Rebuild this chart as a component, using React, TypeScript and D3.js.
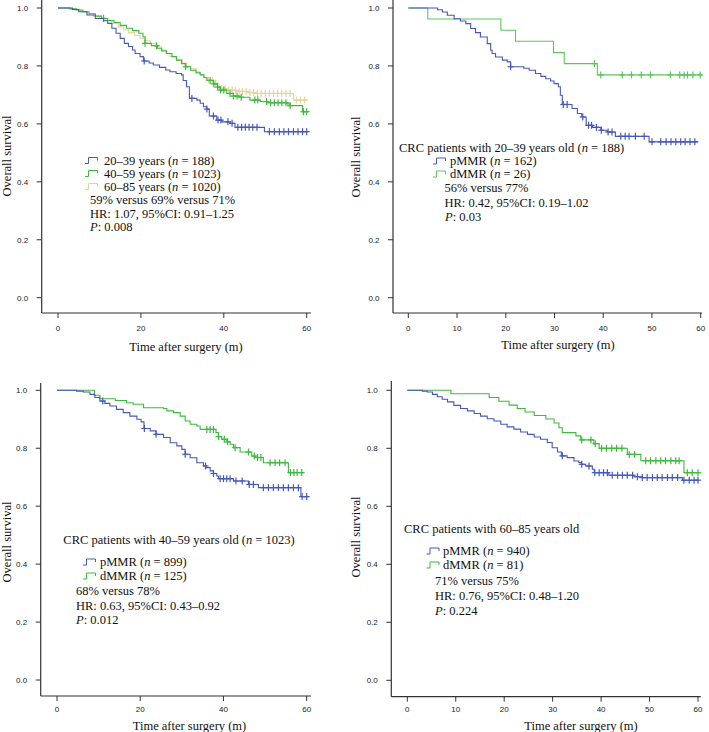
import React from 'react';
import * as d3 from 'd3';

type Step = [number, number];

// ---------- DATA ----------
const Y_TICKS = [0, 0.2, 0.4, 0.6, 0.8, 1.0];
const X_TICKS_20 = [0, 20, 40, 60];
const X_TICKS_10 = [0, 10, 20, 30, 40, 50, 60];

// Panel A: by age group
const A_2039_STEPS: Step[] = [[0,1],[3.5,0.995],[5,0.987],[7,0.976],[9,0.964],[11,0.956],[12,0.947],[13,0.93],[14,0.913],[15,0.895],[16,0.878],[17,0.867],[18,0.855],[18.6,0.843],[19.8,0.832],[20.6,0.817],[22,0.81],[23,0.803],[24.5,0.795],[26,0.786],[27,0.78],[28.5,0.774],[29.8,0.769],[30.2,0.75],[31,0.728],[31.7,0.688],[33.5,0.682],[34.3,0.671],[35.1,0.659],[35.9,0.651],[36.5,0.627],[38.3,0.613],[39.5,0.607],[41.5,0.602],[42.7,0.588],[49.8,0.573]];
const A_2039_CENSOR = [20.8,32.3,35.9,37.5,38.6,39.3,41,42,43.4,44.3,45.2,46.1,47,48,51,52.2,53.4,54.5,55.6,56.8,57.9,59,60];
const A_4059_STEPS: Step[] = [[0,1],[3,0.997],[4.5,0.993],[6,0.987],[7.5,0.98],[9,0.972],[10.5,0.964],[12,0.957],[13.5,0.95],[15,0.94],[16.5,0.93],[18,0.922],[19.5,0.913],[20.5,0.901],[21,0.878],[22.5,0.87],[24,0.861],[25,0.852],[26.2,0.843],[27.5,0.832],[28.6,0.82],[29.8,0.808],[30.7,0.797],[32,0.785],[33.3,0.776],[34.3,0.769],[35.2,0.76],[35.9,0.75],[37.5,0.738],[38.5,0.727],[39.1,0.717],[40.7,0.705],[42.3,0.696],[43.9,0.692],[46.3,0.682],[48.8,0.677],[50.4,0.673],[55.2,0.669],[56,0.663],[59,0.642]];
const A_4059_CENSOR = [11,21,23.8,30.8,36.7,37.6,38.5,39.2,40,41.5,42.3,43.2,44.2,47.5,48.2,50.3,51.3,52.2,53.1,54,55,56,59.2,60];
const A_6085_STEPS: Step[] = [[0,1],[2.5,0.997],[4,0.993],[5.5,0.987],[7,0.98],[8.5,0.972],[10,0.965],[11.5,0.957],[13,0.947],[14.5,0.935],[15.8,0.924],[17,0.915],[18.5,0.905],[19.8,0.895],[21,0.887],[22.3,0.878],[23.5,0.866],[25,0.855],[26,0.843],[27,0.832],[28.5,0.82],[30,0.81],[31,0.8],[32,0.79],[33.3,0.78],[34.3,0.77],[35.2,0.76],[35.9,0.751],[37.5,0.74],[38.3,0.73],[39,0.722],[40.5,0.716],[43,0.712],[46,0.708],[48,0.705],[56.8,0.682]];
const A_6085_CENSOR = [36.3,37.2,38,39.5,40.3,41.2,42,42.8,43.7,44.5,45.4,46.3,47.2,48.1,49,50,51,52,53,54,55,56,57.5,58.5,59.5];
const A_LABELS = ['20–39 years', '40–59 years', '60–85 years'];
const A_N = [188, 1023, 1020];
const A_STATS = ['59% versus  69% versus 71%', 'HR: 1.07, 95%CI: 0.91–1.25', '0.008'];

// Panel B: 20–39 years
const B_P_STEPS: Step[] = [[0,1],[6,0.994],[7,0.986],[8,0.975],[9.4,0.963],[10.7,0.955],[11.8,0.946],[12.8,0.929],[13.8,0.915],[14.8,0.9],[16.2,0.877],[16.9,0.854],[17.2,0.843],[17.9,0.831],[19.3,0.82],[20.3,0.814],[21,0.797],[23.7,0.792],[24.8,0.785],[26.1,0.774],[27.2,0.764],[28.2,0.756],[29.2,0.748],[29.9,0.739],[30.8,0.728],[31.2,0.699],[31.6,0.667],[33.6,0.653],[34.7,0.636],[35.6,0.624],[36.5,0.595],[37.8,0.588],[39.5,0.578],[40.8,0.572],[42.5,0.557],[49.4,0.538]];
const B_P_CENSOR = [21,31.8,32.6,35.8,37,37.6,38.6,39.6,41,41.8,43.6,44.5,45.3,46.6,48.4,50,51.8,52.9,53.9,54.9,55.9,56.8,57.8,58.8];
const B_D_STEPS: Step[] = [[0,1],[4,0.962],[19,0.923],[22,0.885],[29.8,0.846],[32,0.808],[38.8,0.769]];
const B_D_CENSOR = [38.2,39.5,43.9,45.8,47.8,49.7,53.8,55.7,56.6,57.3,58.4,59.9];
const B_HEADER = ['CRC patients with 20–39 years old (', 'n', ' = 188)'];
const B_N = [162, 26];
const B_STATS = ['56% versus 77%', 'HR: 0.42, 95%CI: 0.19–1.02', '0.03'];

// Panel C: 40–59 years
const C_P_STEPS: Step[] = [[0,1],[4.7,0.997],[6.3,0.994],[7.9,0.986],[9.1,0.975],[10.3,0.963],[11.5,0.955],[12.7,0.946],[14.3,0.934],[15.9,0.923],[17.5,0.911],[19.2,0.9],[20.2,0.891],[20.9,0.868],[22.4,0.86],[23.8,0.848],[25.6,0.837],[27.2,0.819],[28.8,0.808],[30,0.796],[30.8,0.779],[32,0.767],[33.6,0.75],[35.2,0.739],[35.8,0.733],[36.8,0.722],[37.6,0.713],[38.4,0.704],[38.8,0.695],[42.4,0.687],[46,0.675],[48.4,0.664],[58.6,0.633]];
const C_P_CENSOR = [11,21,23.8,30.8,35.7,37.6,39.2,40,40.8,41.6,43,44.5,46.2,47.2,49.6,50.8,52,53.2,54.4,55.6,56.8,58,58.9,60];
const C_D_STEPS: Step[] = [[0,1],[9,0.983],[10.3,0.971],[14,0.965],[16.7,0.957],[18.3,0.952],[20.8,0.94],[25.6,0.937],[26.4,0.929],[28,0.923],[29.6,0.911],[30.8,0.894],[32,0.883],[33.6,0.877],[34.4,0.865],[38.2,0.854],[38.8,0.84],[39.6,0.831],[40.8,0.822],[41.6,0.814],[42.4,0.802],[44,0.787],[46.8,0.773],[47.6,0.768],[49.6,0.75],[55.6,0.716]];
const C_D_CENSOR = [36,36.8,37.6,38.8,40.2,41,42.8,46,47.4,48.2,49,51.2,52.4,53.5,54.8,56.1,56.9,57.7,58.8];
const C_HEADER = ['CRC patients with 40–59 years old (', 'n', ' = 1023)'];
const C_N = [899, 125];
const C_STATS = ['68% versus 78%', 'HR: 0.63, 95%CI: 0.43–0.92', '0.012'];

// Panel D: 60–85 years
const D_P_STEPS: Step[] = [[0,1],[3.1,0.997],[4.1,0.994],[5.2,0.986],[6.2,0.978],[7.2,0.969],[8.3,0.96],[9.6,0.948],[11,0.937],[12.4,0.929],[13.8,0.92],[15.1,0.911],[16.5,0.902],[17.9,0.894],[19.3,0.883],[20.6,0.874],[22,0.866],[23.4,0.856],[24.8,0.848],[26.2,0.839],[27.5,0.831],[28.9,0.82],[29.9,0.802],[31,0.787],[31.8,0.774],[33,0.768],[34.4,0.756],[35.4,0.751],[35.9,0.745],[36.8,0.739],[38.2,0.728],[38.6,0.716],[41.6,0.707],[46.8,0.702],[48.5,0.699],[56.8,0.69]];
const D_P_CENSOR = [32,36,37.5,38.7,39.6,40.5,41.3,42.3,43.4,44.4,45.4,46.5,47.5,48.5,49.5,50.6,51.6,52.6,53.7,54.7,55.8,57.1,58.2,59.2,60];
const D_D_STEPS: Step[] = [[0,1],[9,0.988],[16.9,0.975],[18.9,0.962],[21,0.949],[22.7,0.937],[24.3,0.925],[26.2,0.913],[28.6,0.901],[30.3,0.887],[31.3,0.871],[32,0.854],[34.8,0.843],[35.8,0.829],[38.5,0.816],[39.6,0.8],[45.4,0.779],[48.2,0.757],[57.1,0.716]];
const D_D_CENSOR = [36,37.9,38.8,40.1,41.1,42.2,43.2,44.3,45.8,46.9,49.2,50.2,51.3,52.3,53.3,54.4,55.4,56.1,57.8,58.8,60];
const D_HEADER = ['CRC patients with 60–85 years old'];
const D_N = [940, 81];
const D_STATS = ['71% versus 75%', 'HR: 0.76, 95%CI: 0.48–1.20', '0.224'];

const MMR_LABELS = ['pMMR', 'dMMR'];

// ---------- STYLE ----------
const BLUE = '#4658bd';
const GREEN = '#3dba3d';
const LGREEN = '#5cc65c';
const TAN = '#e5d3a0';
const SERIF = '"Liberation Serif", "Times New Roman", serif';
const SANS = '"Liberation Sans", Arial, sans-serif';
const FS = 12.5;

interface Series { steps: Step[]; censor: number[]; end: number; color: string; }
interface Layout {
  axisX: number; axisTop: number; axisY: number; axisRight: number;
  xr: [number, number]; yr: [number, number];
  xTicks: number[]; tickLabelY: number;
  xTitle: [number, number]; yTitle: [number, number];
}

function valueAt(steps: Step[], t: number) {
  let v = steps[0][1];
  for (const [tt, s] of steps) { if (tt <= t) v = s; else break; }
  return v;
}

function Panel({ layout, series }: { layout: Layout; series: Series[] }) {
  const x = d3.scaleLinear().domain([0, 60]).range(layout.xr);
  const y = d3.scaleLinear().domain([0, 1]).range(layout.yr);
  const line = d3.line<Step>().x(d => x(d[0])).y(d => y(d[1])).curve(d3.curveStepAfter);
  const axisColor = '#333';
  return (
    <g>
      {/* axes */}
      <line x1={layout.axisX} x2={layout.axisX} y1={layout.axisTop} y2={layout.axisY} stroke={axisColor} strokeWidth={1.2} />
      <line x1={layout.axisX} x2={layout.axisRight} y1={layout.axisY} y2={layout.axisY} stroke={axisColor} strokeWidth={1.2} />
      {Y_TICKS.map(t => (
        <g key={'y' + t}>
          <line x1={layout.axisX - 5} x2={layout.axisX} y1={y(t)} y2={y(t)} stroke={axisColor} strokeWidth={1} />
          <text x={layout.axisX - 13.5} y={y(t)} dy="0.35em" textAnchor="end" fontFamily={SANS} fontSize={8} fill="#222">{d3.format('.1f')(t)}</text>
        </g>
      ))}
      {layout.xTicks.map(t => (
        <g key={'x' + t}>
          <line x1={x(t)} x2={x(t)} y1={layout.axisY} y2={layout.axisY + 5} stroke={axisColor} strokeWidth={1} />
          <text x={x(t)} y={layout.tickLabelY} dy="0.35em" textAnchor="middle" fontFamily={SANS} fontSize={8} fill="#222">{t}</text>
        </g>
      ))}
      <text x={layout.xTitle[0]} y={layout.xTitle[1]} textAnchor="middle" fontFamily={SERIF} fontSize={FS} fill="#111">Time after surgery (m)</text>
      <text transform={`translate(${layout.yTitle[0]},${layout.yTitle[1]}) rotate(-90)`} textAnchor="middle" fontFamily={SERIF} fontSize={FS} fill="#111">Overall survival</text>
      {/* curves */}
      {series.map((s, i) => {
        const pts: Step[] = [...s.steps, [s.end, s.steps[s.steps.length - 1][1]]];
        return (
          <g key={'s' + i}>
            <path d={line(pts) || ''} fill="none" stroke={s.color} strokeWidth={1.1} />
            {s.censor.map((c, j) => {
              const cx = x(c), cy = y(valueAt(s.steps, c));
              return (
                <g key={j} stroke={s.color} strokeWidth={1.2}>
                  <line x1={cx} x2={cx} y1={cy - 3.5} y2={cy + 3.5} />
                  <line x1={cx - 3} x2={cx + 3} y1={cy} y2={cy} />
                </g>
              );
            })}
          </g>
        );
      })}
    </g>
  );
}

function Icon({ x, y, color }: { x: number; y: number; color: string }) {
  // small step glyph, y = vertical center
  return <path d={`M${x},${y + 3} h3.5 v-6 h9 v3`} fill="none" stroke={color} strokeWidth={1} />;
}

function T({ x, y, children }: { x: number; y: number; children: React.ReactNode }) {
  return <text x={x} y={y} fontFamily={SERIF} fontSize={FS} fill="#111">{children}</text>;
}

function NLabel({ x, y, name, n }: { x: number; y: number; name: string; n: number }) {
  return <T x={x} y={y}>{name} (<tspan fontStyle="italic">n</tspan> = {n})</T>;
}

function PLine({ x, y, v }: { x: number; y: number; v: string }) {
  return <T x={x} y={y}><tspan fontStyle="italic">P</tspan>: {v}</T>;
}

const L1: Layout = { axisX: 41.7, axisTop: 0, axisY: 313, axisRight: 311, xr: [58, 306.7], yr: [297.7, 8], xTicks: X_TICKS_20, tickLabelY: 328.3, xTitle: [186, 351], yTitle: [10.5, 156] };
const L2: Layout = { axisX: 393, axisTop: 0, axisY: 313, axisRight: 702, xr: [408.3, 700.7], yr: [297.7, 8], xTicks: X_TICKS_10, tickLabelY: 328.3, xTitle: [558, 349], yTitle: [360, 157] };
const L3: Layout = { axisX: 40.7, axisTop: 383, axisY: 696, axisRight: 311, xr: [57, 306.7], yr: [680, 390.3], xTicks: X_TICKS_20, tickLabelY: 709.3, xTitle: [189.5, 729.5], yTitle: [10.5, 542] };
const L4: Layout = { axisX: 391.3, axisTop: 381, axisY: 696.7, axisRight: 700.7, xr: [407.3, 698], yr: [680.3, 390.3], xTicks: X_TICKS_10, tickLabelY: 709.3, xTitle: [581, 729.5], yTitle: [360, 537] };

export default function App() {
  return (
    <svg width={709} height={732} style={{ display: 'block', position: 'absolute', left: 0, top: 0, background: '#fff' }}>
      <rect width={709} height={732} fill="#fff" />
      {/* Panel A */}
      <Panel layout={L1} series={[
        { steps: A_6085_STEPS, censor: A_6085_CENSOR, end: 60.3, color: TAN },
        { steps: A_4059_STEPS, censor: A_4059_CENSOR, end: 60.3, color: GREEN },
        { steps: A_2039_STEPS, censor: A_2039_CENSOR, end: 60.3, color: BLUE },
      ]} />
      <Icon x={85} y={160.5} color={BLUE} />
      <Icon x={85} y={173.5} color={GREEN} />
      <Icon x={85} y={186.5} color={TAN} />
      <NLabel x={104} y={164.5} name={A_LABELS[0]} n={A_N[0]} />
      <NLabel x={104} y={177.5} name={A_LABELS[1]} n={A_N[1]} />
      <NLabel x={104} y={190.5} name={A_LABELS[2]} n={A_N[2]} />
      <T x={90} y={204}>{A_STATS[0]}</T>
      <T x={90} y={217.5}>{A_STATS[1]}</T>
      <PLine x={90} y={231} v={A_STATS[2]} />

      {/* Panel B */}
      <Panel layout={L2} series={[
        { steps: B_D_STEPS, censor: B_D_CENSOR, end: 60.3, color: LGREEN },
        { steps: B_P_STEPS, censor: B_P_CENSOR, end: 59.5, color: BLUE },
      ]} />
      <T x={399} y={152}>{B_HEADER[0]}<tspan fontStyle="italic">{B_HEADER[1]}</tspan>{B_HEADER[2]}</T>
      <Icon x={433} y={161} color={BLUE} />
      <Icon x={433} y={174} color={LGREEN} />
      <NLabel x={450} y={165} name={MMR_LABELS[0]} n={B_N[0]} />
      <NLabel x={450} y={178} name={MMR_LABELS[1]} n={B_N[1]} />
      <T x={444.5} y={192}>{B_STATS[0]}</T>
      <T x={444.5} y={206.5}>{B_STATS[1]}</T>
      <PLine x={445} y={221} v={B_STATS[2]} />

      {/* Panel C */}
      <Panel layout={L3} series={[
        { steps: C_D_STEPS, censor: C_D_CENSOR, end: 59.3, color: GREEN },
        { steps: C_P_STEPS, censor: C_P_CENSOR, end: 60.4, color: BLUE },
      ]} />
      <T x={63.3} y={543.5}>{C_HEADER[0]}<tspan fontStyle="italic">{C_HEADER[1]}</tspan>{C_HEADER[2]}</T>
      <Icon x={83} y={562} color={BLUE} />
      <Icon x={83} y={576} color={GREEN} />
      <NLabel x={100} y={566} name={MMR_LABELS[0]} n={C_N[0]} />
      <NLabel x={100} y={580} name={MMR_LABELS[1]} n={C_N[1]} />
      <T x={76} y={595}>{C_STATS[0]}</T>
      <T x={76} y={609.5}>{C_STATS[1]}</T>
      <PLine x={76} y={624} v={C_STATS[2]} />

      {/* Panel D */}
      <Panel layout={L4} series={[
        { steps: D_D_STEPS, censor: D_D_CENSOR, end: 60.2, color: GREEN },
        { steps: D_P_STEPS, censor: D_P_CENSOR, end: 60.2, color: BLUE },
      ]} />
      <T x={404} y={532.5}>{D_HEADER[0]}</T>
      <Icon x={426.5} y={551} color={BLUE} />
      <Icon x={426.5} y={565} color={GREEN} />
      <NLabel x={443} y={555} name={MMR_LABELS[0]} n={D_N[0]} />
      <NLabel x={443} y={569} name={MMR_LABELS[1]} n={D_N[1]} />
      <T x={435} y={584.5}>{D_STATS[0]}</T>
      <T x={435} y={599.5}>{D_STATS[1]}</T>
      <PLine x={435} y={614.5} v={D_STATS[2]} />
    </svg>
  );
}
